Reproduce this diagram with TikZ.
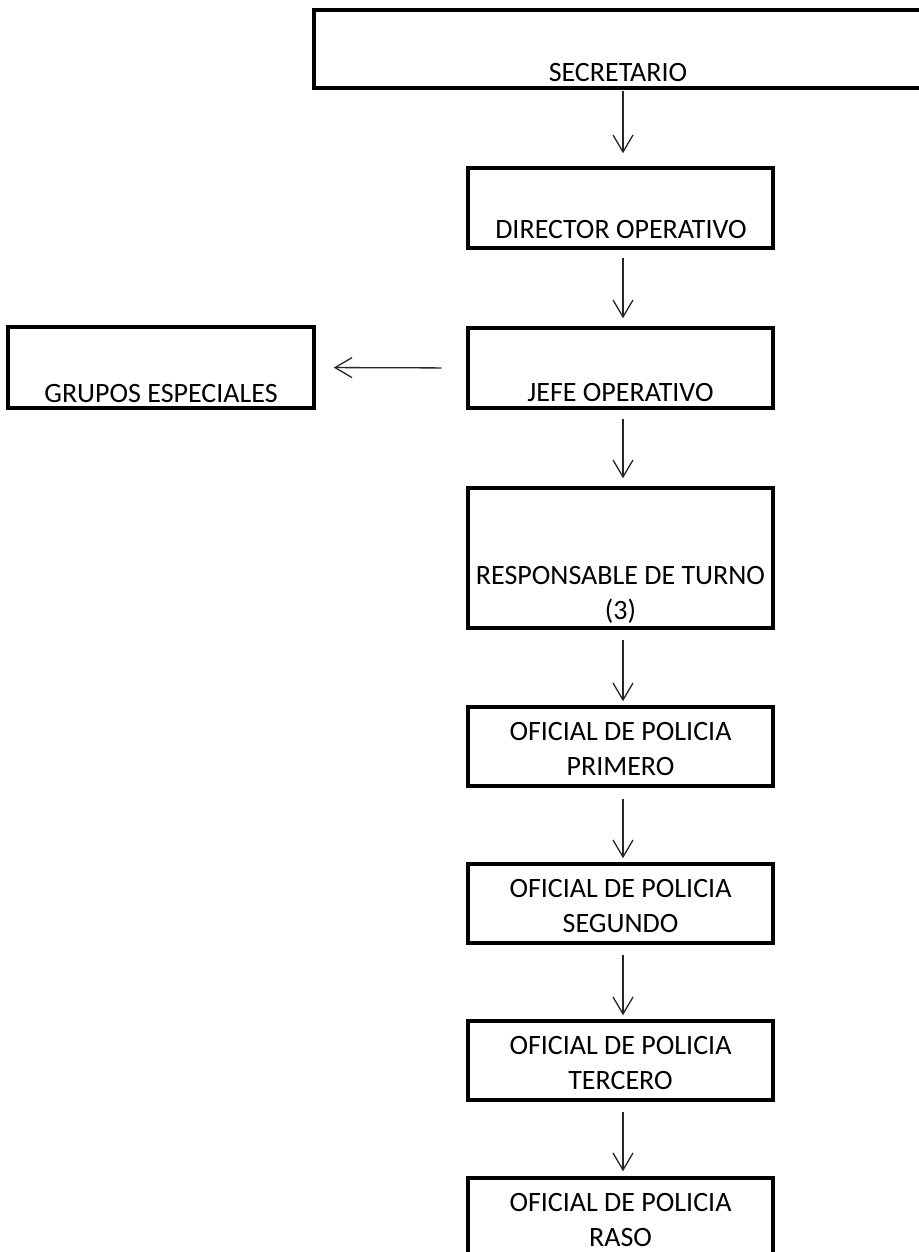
\documentclass[tikz,border=0pt]{standalone}
\usepackage{fontspec}
\setmainfont{Carlito}
\usetikzlibrary{arrows.meta}
\begin{document}
\begin{tikzpicture}[x=1pt,y=-1pt,
  box/.style={draw=black,line width=3.5pt,inner sep=0pt,rectangle},
  lbl/.style={inner sep=0pt,anchor=north,align=center,text=black,font=\fontsize{28}{35}\selectfont},
  arr/.style={draw=black!85,line width=1.3pt,-{Straight Barb[length=17pt,width=20pt]}}]
\fill[white] (0,0) rectangle (918,1252);
\useasboundingbox (0,0) rectangle (918,1252);
% boxes
\node[box,minimum width=616pt,minimum height=78pt] (sec) at (622,49) {};
\node[box,minimum width=305pt,minimum height=80pt] (dir) at (620.5,208) {};
\node[box,minimum width=305pt,minimum height=80pt] (jefe) at (620.5,368) {};
\node[box,minimum width=306pt,minimum height=81pt] (gru) at (161,367.5) {};
\node[box,minimum width=305pt,minimum height=140pt] (resp) at (620.5,558) {};
\node[box,minimum width=305pt,minimum height=79pt] (prim) at (620.5,746.5) {};
\node[box,minimum width=305pt,minimum height=79pt] (seg) at (620.5,903.5) {};
\node[box,minimum width=305pt,minimum height=79pt] (ter) at (620.5,1060.5) {};
\node[box,minimum width=305pt,minimum height=82pt] (raso) at (620.5,1219) {};
% labels
\node[lbl] (secT) at (618,63) {SECRETARIO};
\node[lbl] (dirT) at (621,220) {DIRECTOR OPERATIVO};
\node[lbl] (jefeT) at (620.5,383) {JEFE OPERATIVO};
\node[lbl] (gruT) at (161,384) {GRUPOS ESPECIALES};
\node[lbl] (respT) at (620.5,566) {RESPONSABLE DE TURNO\\(3)};
\node[lbl] (primT) at (620.5,722) {OFICIAL DE POLICIA\\PRIMERO};
\node[lbl] (segT) at (620.5,879) {OFICIAL DE POLICIA\\SEGUNDO};
\node[lbl] (terT) at (620.5,1036) {OFICIAL DE POLICIA\\TERCERO};
\node[lbl] (rasoT) at (620.5,1193) {OFICIAL DE POLICIA\\RASO};
% connectors
\coordinate (ax) at (623,0);
\draw[arr,shorten <=1pt,shorten >=13pt] (sec.south -| ax) -- (dir.north -| ax);
\draw[arr,shorten <=8pt,shorten >=8pt] (dir.south -| ax) -- (jefe.north -| ax);
\draw[arr,shorten <=9pt,shorten >=8pt] (jefe.south -| ax) -- (resp.north -| ax);
\draw[arr,shorten <=10pt,shorten >=4pt] (resp.south -| ax) -- (prim.north -| ax);
\draw[arr,shorten <=11pt,shorten >=4pt] (prim.south -| ax) -- (seg.north -| ax);
\draw[arr,shorten <=10pt,shorten >=4pt] (seg.south -| ax) -- (ter.north -| ax);
\draw[arr,shorten <=10pt,shorten >=5pt] (ter.south -| ax) -- (raso.north -| ax);
\draw[arr,shorten <=25pt,shorten >=18pt] (jefe.west) -- (gru.east);
\end{tikzpicture}
\end{document}
